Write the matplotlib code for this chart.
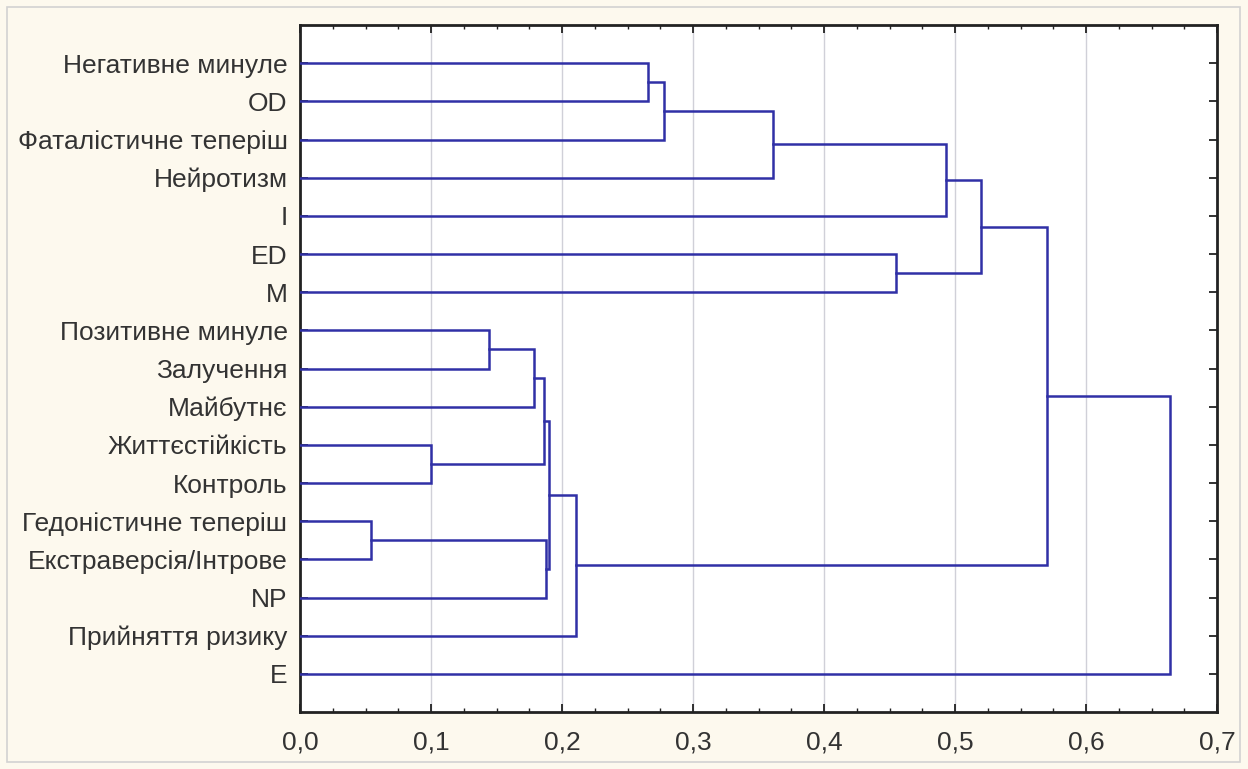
# hierarchical cluster tree of the questionnaire scales
import matplotlib
matplotlib.use("Agg")
import matplotlib.pyplot as plt
from matplotlib.ticker import MultipleLocator, FuncFormatter
from matplotlib.patches import Rectangle

plt.rcParams['font.family'] = ['Liberation Sans', 'DejaVu Sans']

# leaves, top to bottom
labels = ["Негативне минуле", "OD", "Фаталістичне теперіш", "Нейротизм", "I",
          "ED", "M", "Позитивне минуле", "Залучення", "Майбутнє",
          "Життєстійкість", "Контроль", "Гедоністичне теперіш",
          "Екстраверсія/Інтрове", "NP", "Прийняття ризику", "E"]

# merges: (node a, node b, linkage distance); new nodes are numbered from 17
merge_a = [0, 17, 18, 19, 5, 20, 7, 23, 10, 24, 12, 27, 26, 29, 22, 31]
merge_b = [1, 2, 3, 4, 6, 21, 8, 9, 11, 25, 13, 14, 28, 15, 30, 16]
merge_h = [0.266, 0.278, 0.361, 0.493, 0.455, 0.520, 0.144, 0.179, 0.100,
           0.186, 0.054, 0.188, 0.190, 0.211, 0.570, 0.664]

line_col = "#3030a6"
text_col = "#333333"
bg = "#fdf9ee"

fig = plt.figure(figsize=(12.48, 7.69), dpi=100)
fig.patch.set_facecolor(bg)
fig.patches.append(Rectangle((7 / 1248, 7 / 769), 1233 / 1248, 755 / 769,
                             transform=fig.transFigure, fill=False,
                             edgecolor="#d2d2d2", linewidth=1.2))

ax = fig.add_axes([300 / 1248, 1 - 712 / 769, 917 / 1248, 687 / 769])
ax.set_facecolor("white")

# node positions
n = len(labels)
pos_y = {i: i + 1 for i in range(n)}
pos_x = {i: 0.0 for i in range(n)}
for k in range(len(merge_h)):
    a, b, h = merge_a[k], merge_b[k], merge_h[k]
    ax.plot([pos_x[a], h, h, pos_x[b]], [pos_y[a], pos_y[a], pos_y[b], pos_y[b]],
            color=line_col, linewidth=1.8, solid_joinstyle="miter", zorder=3)
    node = n + k
    pos_y[node] = (pos_y[a] + pos_y[b]) / 2
    pos_x[node] = h

ax.set_xlim(0, 0.7)
ax.set_ylim(n + 1, 0)
ax.xaxis.set_major_locator(MultipleLocator(0.1))
ax.xaxis.set_minor_locator(MultipleLocator(0.025))
ax.xaxis.set_major_formatter(FuncFormatter(lambda v, p: ("%.1f" % v).replace(".", ",")))
ax.set_yticks(range(1, n + 1))
ax.set_yticklabels(labels)
ax.grid(axis="x", which="major", color="#d0d0d8", linewidth=1.0, zorder=0)

ax.tick_params(axis="both", which="both", direction="in", top=True, right=True,
               colors="#222222", labelcolor=text_col, labelsize=19)
ax.tick_params(axis="x", which="major", length=6, width=1.3, pad=13)
ax.tick_params(axis="x", which="minor", length=3, width=1.0)
ax.tick_params(axis="y", which="major", length=6, width=1.3, pad=9)
for s in ax.spines.values():
    s.set_color("#222222")
    s.set_linewidth(2.0)

fig.savefig("out.png", dpi=100, facecolor=bg)
